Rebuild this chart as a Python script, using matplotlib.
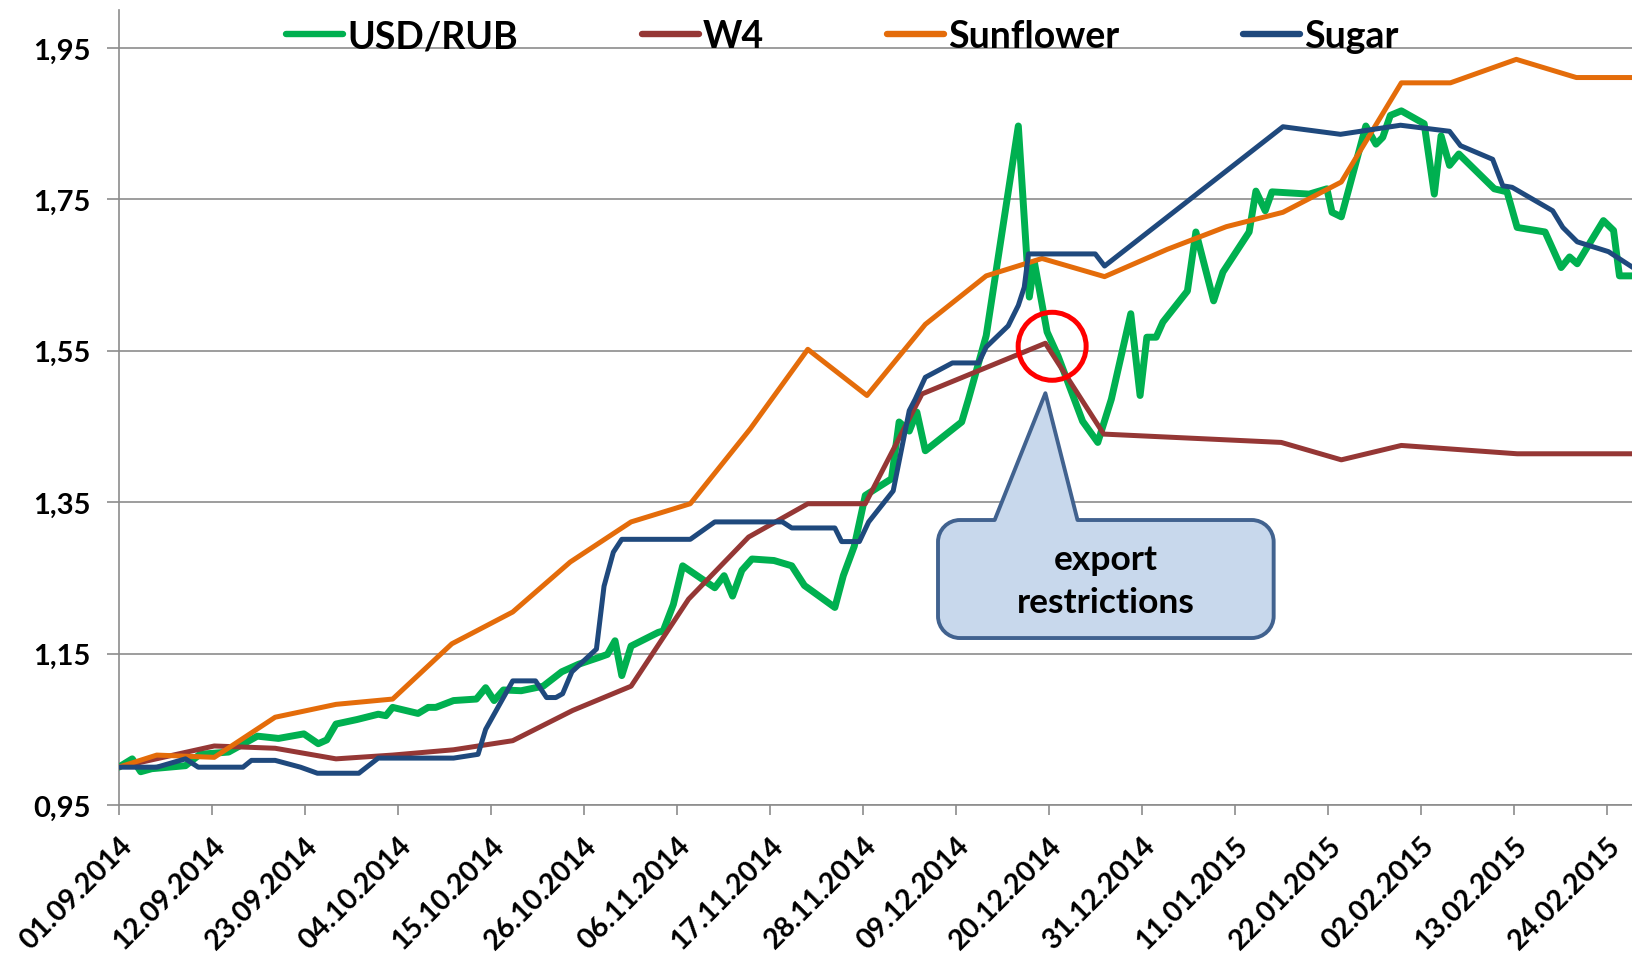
import numpy as np
import matplotlib
matplotlib.use("Agg")
import matplotlib.pyplot as plt
from matplotlib.path import Path
from matplotlib.patches import PathPatch, Ellipse

# x values are days since 01.09.2014
tick_labels = ["01.09.2014", "12.09.2014", "23.09.2014", "04.10.2014", "15.10.2014",
               "26.10.2014", "06.11.2014", "17.11.2014", "28.11.2014", "09.12.2014",
               "20.12.2014", "31.12.2014", "11.01.2015", "22.01.2015", "02.02.2015",
               "13.02.2015", "24.02.2015"]
y_ticks = [0.95, 1.15, 1.35, 1.55, 1.75, 1.95]

usd_days = [0, 1.6, 2.6, 3.9, 7.9, 9.6, 13, 16.4, 18.9, 21.9, 23.6, 24.6, 25.7, 28.2, 30.7,
            31.6, 32.4, 35.4, 36.6, 37.5, 39.6, 42.3, 43.4, 44.4, 45.5, 47.6, 50.2, 52.4,
            54.4, 56.8, 57.8, 58.7, 59.5, 60.6, 63.8, 64.4, 65.6, 66.7, 70.5, 71.6, 72.6,
            73.7, 74.9, 77.5, 79.6, 81.1, 84.7, 85.7, 87, 88.3, 91.4, 92.3, 93.5, 94.4,
            95.4, 99.7, 100.5, 102.6, 106.4, 107.7, 108.3, 109.8, 111.1, 114, 115.8,
            117.4, 119.7, 120.8, 121.6, 122.7, 123.5, 126.4, 127.4, 129.5, 130.6, 133.7,
            134.5, 135.6, 136.4, 140.8, 142.9, 143.5, 144.6, 147.5, 148.7, 149.5, 150.4,
            151.7, 154.4, 155.6, 156.4, 157.4, 158.5, 162.7, 164.2, 165.4, 168.7, 170.6,
            171.6, 172.5, 175.6, 176.8, 177.5, 179.1]
usd_vals = [1.0, 1.011, 0.994, 0.998, 1.002, 1.017, 1.02, 1.041, 1.038, 1.044, 1.031, 1.036,
            1.057, 1.063, 1.07, 1.068, 1.079, 1.071, 1.079, 1.079, 1.088, 1.09, 1.105, 1.088,
            1.102, 1.101, 1.107, 1.126, 1.136, 1.145, 1.149, 1.167, 1.121, 1.16, 1.178, 1.18,
            1.215, 1.266, 1.237, 1.253, 1.226, 1.26, 1.275, 1.273, 1.266, 1.24, 1.211, 1.253,
            1.292, 1.359, 1.381, 1.456, 1.444, 1.469, 1.418, 1.456, 1.486, 1.57, 1.847, 1.621,
            1.667, 1.575, 1.543, 1.457, 1.429, 1.486, 1.599, 1.491, 1.568, 1.568, 1.588, 1.629,
            1.707, 1.616, 1.654, 1.707, 1.761, 1.735, 1.76, 1.757, 1.764, 1.733, 1.727, 1.847,
            1.823, 1.832, 1.861, 1.867, 1.85, 1.757, 1.834, 1.795, 1.81, 1.764, 1.76, 1.713,
            1.707, 1.66, 1.674, 1.665, 1.722, 1.709, 1.649, 1.649]

w4_days = [0, 11.3, 18.5, 25.7, 32.4, 39.6, 46.6, 53.7, 60.6, 67.4, 74.5, 81.5, 88.3, 95,
           109.6, 116.5, 137.5, 144.6, 151.7, 165.4, 179.1]
w4_vals = [1.0, 1.028, 1.025, 1.011, 1.016, 1.023, 1.035, 1.075, 1.107, 1.222, 1.304, 1.348,
           1.348, 1.493, 1.56, 1.44, 1.429, 1.406, 1.425, 1.414, 1.414]

sun_days = [0, 4.5, 11.3, 18.5, 25.7, 32.4, 39.4, 46.6, 53.4, 60.6, 67.6, 74.7, 81.5, 88.5,
            95.4, 102.6, 109.2, 116.6, 124, 131, 137.7, 144.6, 151.7, 157.5, 165.3, 172.4, 179.1]
sun_vals = [1.0, 1.016, 1.013, 1.066, 1.083, 1.09, 1.163, 1.205, 1.271, 1.324, 1.348, 1.447,
            1.552, 1.491, 1.585, 1.649, 1.672, 1.648, 1.684, 1.714, 1.733, 1.773, 1.904, 1.904,
            1.935, 1.911, 1.911]

sugar_days = [0, 4.5, 7.9, 9.4, 14.7, 15.7, 18.5, 21.5, 23.5, 28.4, 30.7, 39.6, 42.5, 43.4,
              46.6, 49.3, 50.6, 51.7, 52.5, 53.6, 56.5, 57.4, 58.5, 59.5, 67.6, 70.5, 78.5,
              79.6, 84.7, 85.5, 87.6, 88.7, 91.6, 93.5, 94.2, 95.4, 98.6, 101.7, 102.6, 105.2,
              106.4, 107.1, 107.6, 115.5, 116.6, 137.7, 144.5, 151.6, 157.4, 158.7, 162.5,
              163.7, 164.8, 169.6, 170.8, 172.5, 176.2, 179.1]
sugar_vals = [1.0, 1.0, 1.011, 1.0, 1.0, 1.009, 1.009, 1.0, 0.992, 0.992, 1.012, 1.012, 1.017,
              1.05, 1.114, 1.114, 1.092, 1.092, 1.097, 1.126, 1.156, 1.239, 1.284, 1.301, 1.301,
              1.324, 1.324, 1.316, 1.316, 1.298, 1.298, 1.324, 1.365, 1.471, 1.486, 1.515, 1.534,
              1.534, 1.555, 1.583, 1.61, 1.634, 1.678, 1.678, 1.662, 1.846, 1.836, 1.848, 1.84,
              1.821, 1.803, 1.768, 1.766, 1.735, 1.713, 1.694, 1.681, 1.66]

note_text = "export\nrestrictions"

FONT = ["Lato", "DejaVu Sans"]
plt.rcParams["font.family"] = FONT
plt.rcParams["font.weight"] = "bold"

fig = plt.figure(figsize=(16.33, 9.54), dpi=100)
ax = fig.add_axes([0.0727, 0.1551, 0.9273, 0.8332])

line_kw = dict(solid_joinstyle="round", solid_capstyle="round")
ax.plot(usd_days, usd_vals, color="#00B050", lw=5.0, label="USD/RUB", zorder=3, **line_kw)
ax.plot(w4_days, w4_vals, color="#953735", lw=3.6, label="W4", zorder=4, **line_kw)
ax.plot(sun_days, sun_vals, color="#E46C0A", lw=3.6, label="Sunflower", zorder=5, **line_kw)
ax.plot(sugar_days, sugar_vals, color="#1F497D", lw=3.6, label="Sugar", zorder=6, **line_kw)

ax.set_xlim(0, 179.1)
ax.set_ylim(0.95, 2.0)
ax.set_xticks(np.arange(len(tick_labels)) * 11)
ax.set_xticklabels(tick_labels, rotation=45, ha="right", va="top", rotation_mode="anchor",
                   fontsize=20.5, fontweight="bold")
ax.set_yticks(y_ticks)
ax.set_yticklabels([f"{v:.2f}".replace(".", ",") for v in y_ticks], fontsize=21,
                   fontweight="bold")

ax.tick_params(axis="x", length=7, width=1.2, color="#8c8c8c", pad=12)
ax.tick_params(axis="y", length=8.5, width=1.2, color="#8c8c8c", pad=11.5)
ax.grid(axis="y", color="#8c8c8c", lw=1.2)
ax.set_axisbelow(True)
for s in ["top", "right"]:
    ax.spines[s].set_visible(False)
for s in ["left", "bottom"]:
    ax.spines[s].set_color("#8c8c8c")
    ax.spines[s].set_linewidth(1.2)

# callout box with pointer (data coords)
bx0, bx1, by0, by1 = 96.9, 136.6, 1.1706, 1.3265
rx, ry = 2.6, 0.029
px0, px1, apx, apy = 103.6, 113.4, 109.6, 1.494
k = 0.5523
verts = [(bx0 + rx, by1), (px0, by1), (apx, apy), (px1, by1), (bx1 - rx, by1),
         (bx1 - rx + k * rx, by1), (bx1, by1 - ry + k * ry), (bx1, by1 - ry),
         (bx1, by0 + ry),
         (bx1, by0 + ry - k * ry), (bx1 - rx + k * rx, by0), (bx1 - rx, by0),
         (bx0 + rx, by0),
         (bx0 + rx - k * rx, by0), (bx0, by0 + ry - k * ry), (bx0, by0 + ry),
         (bx0, by1 - ry),
         (bx0, by1 - ry + k * ry), (bx0 + rx - k * rx, by1), (bx0 + rx, by1),
         (bx0 + rx, by1)]
codes = ([Path.MOVETO] + [Path.LINETO] * 4 + [Path.CURVE4] * 3 + [Path.LINETO]
         + [Path.CURVE4] * 3 + [Path.LINETO] + [Path.CURVE4] * 3 + [Path.LINETO]
         + [Path.CURVE4] * 3 + [Path.CLOSEPOLY])
ax.add_patch(PathPatch(Path(verts, codes), facecolor="#C8D8EC", edgecolor="#41628F",
                       lw=2.8, joinstyle="round", zorder=8))
ax.text((bx0 + bx1) / 2, (by0 + by1) / 2 - 0.002, note_text, ha="center", va="center",
        fontsize=25.5, fontweight="bold", linespacing=1.45, zorder=9)

ax.add_patch(Ellipse((110.4, 1.556), 8.04, 0.0898, facecolor="none", edgecolor="#FF0000",
                     lw=3.6, zorder=10))

leg = ax.legend(loc="center left", bbox_to_anchor=(0.1754, 0.961),
                bbox_transform=fig.transFigure, ncol=4, frameon=False,
                handlelength=1.52, handletextpad=0.1, columnspacing=3.3,
                borderpad=0, borderaxespad=0,
                prop=dict(family=FONT, weight="bold", size=27))
for ln in leg.get_lines():
    ln.set_linewidth(4.6)
    ln.set_solid_capstyle("round")

fig.savefig("out.png", dpi=100)
